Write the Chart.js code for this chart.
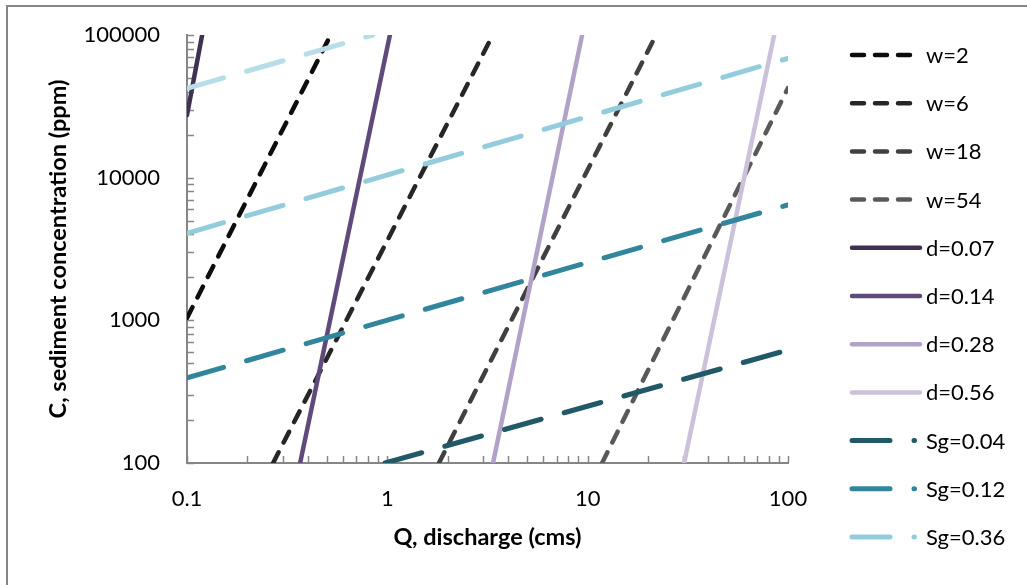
<!DOCTYPE html>
<html>
<head>
<meta charset="utf-8">
<script src="https://cdn.jsdelivr.net/npm/chart.js@4.4.1/dist/chart.umd.min.js"></script>
<style>
  body { margin: 0; background: #fff; }
  #wrap { position: relative; width: 1027px; height: 585px; overflow: hidden; }
  #frame { position: absolute; left: 6px; top: 5px; width: 1100px; height: 700px;
           border-left: 2px solid #868686; border-top: 2px solid #868686; }
  canvas { position: absolute; left: 0; top: 0; }
</style>
</head>
<body>
<div id="wrap">
  <div id="frame"></div>
  <canvas id="sedChart" width="1027" height="585"></canvas>
</div>
<script>
// Q (cms) and C (ppm) at the two ends of each straight line (log-log)
const seriesNames = ['w=2', 'w=6', 'w=18', 'w=54', 'd=0.07', 'd=0.14', 'd=0.28', 'd=0.56',
                     'Sg=0.04', 'Sg=0.12', 'Sg=0.36', 'Sg=1.08'];
const w2   = [[0.1, 1040], [0.506, 92000]];
const w6   = [[0.269, 100], [3.26, 92000]];
const w18  = [[1.81, 100], [21.3, 92000]];
const w54  = [[11.8, 100], [100, 42500]];
const d007 = [[0.1, 27500], [0.119, 100000]];
const d014 = [[0.367, 100], [1.03, 100000]];
const d028 = [[3.37, 100], [9.38, 100000]];
const d056 = [[30.3, 100], [85.3, 100000]];
const sg004 = [[0.975, 100], [100, 620]];
const sg012 = [[0.1, 395], [100, 6450]];
const sg036 = [[0.1, 4075], [100, 68600]];
const sg108 = [[0.1, 42300], [0.848, 100000]];
const seriesData = [w2, w6, w18, w54, d007, d014, d028, d056, sg004, sg012, sg036, sg108];

const xTicks = [0.1, 1, 10, 100];
const xTickLabels = ['0.1', '1', '10', '100'];
const yTicks = [100, 1000, 10000, 100000];
const yTickLabels = ['100', '1000', '10000', '100000'];

// look of each line
const shortDash = [12, 11];
const longDash = [38, 24];
const styles = [
  { color: '#0d0d0d', width: 4.5, dash: shortDash },
  { color: '#262626', width: 4.5, dash: shortDash },
  { color: '#404040', width: 4.5, dash: shortDash },
  { color: '#595959', width: 4.5, dash: shortDash },
  { color: '#403152', width: 4.5, dash: [] },
  { color: '#604a7b', width: 4.5, dash: [] },
  { color: '#b3a2c7', width: 4.5, dash: [] },
  { color: '#ccc1da', width: 4.5, dash: [] },
  { color: '#215968', width: 5, dash: longDash },
  { color: '#31859c', width: 5, dash: longDash },
  { color: '#93cddd', width: 5, dash: longDash },
  { color: '#b7dee8', width: 5, dash: longDash }
];
const legendCount = 11; // the last line has no legend entry in the original

Chart.defaults.font.family = 'Lato, "Open Sans", sans-serif';
Chart.defaults.color = '#000';

const datasets = seriesData.map((pts, i) => ({
  label: seriesNames[i],
  data: pts.map(p => ({ x: p[0], y: p[1] })),
  borderColor: styles[i].color,
  borderWidth: styles[i].width,
  borderDash: styles[i].dash,
  borderCapStyle: 'round',
  pointRadius: 0,
  fill: false,
  clip: 0,
  order: seriesData.length - i
}));

// little inside tick marks at 1..9 of every decade
const tickMarks = {
  id: 'tickMarks',
  beforeDatasetsDraw(chart) {
    const { ctx, chartArea, scales } = chart;
    ctx.save();
    ctx.strokeStyle = '#868686';
    ctx.lineWidth = 1.5;
    ctx.beginPath();
    for (let e = -1; e <= 2; e++) {
      for (let k = 1; k <= 9; k++) {
        const v = k * Math.pow(10, e);
        if (v < scales.x.min - 1e-9 || v > scales.x.max + 1e-9) continue;
        const px = Math.round(scales.x.getPixelForValue(v)) + 0.5;
        ctx.moveTo(px, chartArea.bottom);
        ctx.lineTo(px, chartArea.bottom - 7);
      }
    }
    for (let e = 2; e <= 5; e++) {
      for (let k = 1; k <= 9; k++) {
        const v = k * Math.pow(10, e);
        if (v < scales.y.min - 1e-6 || v > scales.y.max + 1e-6) continue;
        const py = Math.round(scales.y.getPixelForValue(v)) + 0.5;
        ctx.moveTo(chartArea.left, py);
        ctx.lineTo(chartArea.left + 7, py);
      }
    }
    ctx.stroke();
    ctx.restore();
  }
};

// legend on the right, drawn like the original
const sideLegend = {
  id: 'sideLegend',
  afterDraw(chart) {
    const ctx = chart.ctx;
    ctx.save();
    ctx.font = '22px Lato, "Open Sans", sans-serif';
    ctx.textBaseline = 'middle';
    ctx.fillStyle = '#000';
    for (let i = 0; i < legendCount; i++) {
      const ds = chart.data.datasets[i];
      const y = 55 + i * 48.2;
      const x0 = 852;
      let len = 68;
      if (ds.borderDash === shortDash) len = 58;
      if (ds.borderDash === longDash) len = 62.5;
      ctx.strokeStyle = ds.borderColor;
      ctx.lineWidth = ds.borderWidth;
      ctx.lineCap = 'round';
      ctx.setLineDash(ds.borderDash);
      ctx.beginPath();
      ctx.moveTo(x0, y);
      ctx.lineTo(x0 + len, y);
      ctx.stroke();
      ctx.setLineDash([]);
      ctx.fillText(ds.label, 926, y + 1);
    }
    ctx.restore();
  }
};

const ctx = document.getElementById('sedChart').getContext('2d');
const sedChart = new Chart(ctx, {
  type: 'line',
  data: { datasets: datasets },
  plugins: [tickMarks, sideLegend],
  options: {
    responsive: false,
    animation: false,
    devicePixelRatio: 1,
    layout: { padding: { left: 0, top: 35, right: 239, bottom: 0 } },
    plugins: {
      legend: { display: false },
      tooltip: { enabled: false }
    },
    scales: {
      x: {
        type: 'logarithmic',
        min: 0.1,
        max: 100,
        afterBuildTicks: axis => { axis.ticks = xTicks.map(v => ({ value: v })); },
        afterFit: axis => {
          axis.height = 122;
          axis.paddingLeft = 0;
          axis.paddingRight = 0;
        },
        ticks: {
          autoSkip: false,
          maxRotation: 0,
          padding: 23,
          font: { size: 22 },
          callback: (v, i) => xTickLabels[i]
        },
        grid: { display: false, drawTicks: false },
        border: { display: true, color: '#868686', width: 2 },
        title: {
          display: true,
          text: 'Q, discharge (cms)',
          font: { size: 23.5, weight: 'bold' },
          padding: { top: 0, bottom: 33 }
        }
      },
      y: {
        type: 'logarithmic',
        min: 100,
        max: 100000,
        afterBuildTicks: axis => { axis.ticks = yTicks.map(v => ({ value: v })); },
        afterFit: axis => {
          axis.width = 187;
          axis.paddingTop = 0;
          axis.paddingBottom = 0;
        },
        ticks: {
          autoSkip: false,
          padding: 27,
          font: { size: 22 },
          callback: (v, i) => yTickLabels[i]
        },
        grid: { display: false, drawTicks: false },
        border: { display: true, color: '#868686', width: 2 },
        title: {
          display: true,
          text: 'C, sediment concentration (ppm)',
          font: { size: 23.5, weight: 'bold' },
          padding: { top: 44, bottom: 0 }
        }
      }
    }
  }
});
</script>
</body>
</html>
